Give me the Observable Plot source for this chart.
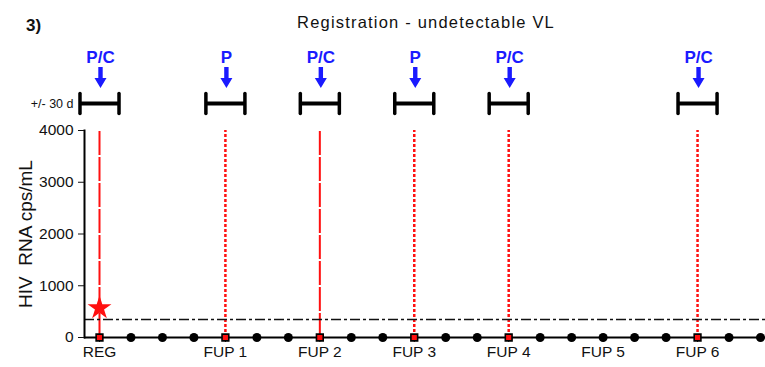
<!DOCTYPE html>
<html><head><meta charset="utf-8">
<script src="https://cdn.jsdelivr.net/npm/d3@7"></script>
<script src="https://cdn.jsdelivr.net/npm/@observablehq/plot@0.6"></script>
<style>
body{margin:0;background:#fff;font-family:"Liberation Sans",Arial,sans-serif;}
#wrap{position:relative;width:765px;height:367px;overflow:hidden;background:#fff}
#panel{position:absolute;left:26px;top:16px;font-weight:bold;font-size:17px;color:#111}
#title{position:absolute;left:0;width:852px;top:13px;text-align:center;font-size:16.5px;letter-spacing:1.2px;color:#111}
#topStrip{position:absolute;left:0;top:40px}
#mainChart{position:absolute;left:0;top:115px}
</style>
</head><body>
<div id="wrap">
  <div id="panel">3)</div>
  <div id="title">Registration - undetectable VL</div>
  <div id="topStrip"></div>
  <div id="mainChart"></div>
</div>
<script>
// ---- data ----
const sampleMonths = [0,1,2,3,4,5,6,7,8,9,10,11,12,13,14,15,16,17,18,19,20,21];
const viralLoad   = [0,0,0,0,0,0,0,0,0,0,0,0,0,0,0,0,0,0,0,0,0,0];
const visitMonths = [0,4,7,10,13,16,19];
const visitLabels = ["REG","FUP 1","FUP 2","FUP 3","FUP 4","FUP 5","FUP 6"];
const sampledVisits = [0,4,7,10,13,19];
const sampleTypes = ["P/C","P","P/C","P","P/C","P/C"];
const dashedVisits = [0,7];
const dottedVisits = [4,10,13,19];
const detectedMonths = [0];
const detectedValues = [570];
const detectionLimit = 350;
const windowHalfMonths = 0.62; // +/- 30 d
const yTicks = [0,1000,2000,3000,4000];

const samples = sampleMonths.map((m,i)=>({m, v: viralLoad[i], visit: sampledVisits.includes(m)}));
const detected = detectedMonths.map((m,i)=>({m, v: detectedValues[i]}));
const sampled = sampledVisits.map((m,i)=>({m, type: sampleTypes[i]}));

const RED = "#ff1010", BLUE = "#1a1aff";
const xScale = {domain:[0,21], insetLeft:15, insetRight:5};
const fontStack = "'Liberation Sans',Arial,sans-serif";

const arrowShape = {draw(ctx, l) {
  const hw = 2.2, head = 10, hh = 6;
  ctx.moveTo(-hw, 0); ctx.lineTo(hw, 0); ctx.lineTo(hw, -l + head); ctx.lineTo(hh, -l + head);
  ctx.lineTo(0, -l); ctx.lineTo(-hh, -l + head); ctx.lineTo(-hw, -l + head); ctx.closePath();
}};
const lineShape = {draw(ctx, l) { ctx.moveTo(0, 0); ctx.lineTo(0, -l); }};

// ---- top annotation strip ----
const topPlot = Plot.plot({
  width: 765, height: 75,
  marginLeft: 84, marginRight: 0, marginTop: 0, marginBottom: 0,
  x: {...xScale, axis: null},
  y: {type: "point", domain: ["label","arrow","bar"], range: [16.5, 63], padding: 0, axis: null},
  style: {fontFamily: fontStack, background: "transparent", overflow: "visible"},
  marks: [
    Plot.text(sampled, {x: "m", y: () => "label", text: "type", fill: BLUE, fontWeight: "bold", fontSize: 17, dx: 1}),
    Plot.vector(sampled, {x: "m", y: () => "arrow", length: 21, rotate: 180, anchor: "middle", shape: arrowShape, fill: BLUE, stroke: "none", dy: -3, dx: 1}),
    Plot.ruleY(sampled, {y: () => "bar", x1: d => d.m - windowHalfMonths, x2: d => d.m + windowHalfMonths, strokeWidth: 4, stroke: "#000"}),
    Plot.vector(sampled, {x: d => d.m - windowHalfMonths, y: () => "bar", length: 20, anchor: "middle", shape: lineShape, stroke: "#000", strokeWidth: 3.5}),
    Plot.vector(sampled, {x: d => d.m + windowHalfMonths, y: () => "bar", length: 20, anchor: "middle", shape: lineShape, stroke: "#000", strokeWidth: 3.5}),
    Plot.text(["+/- 30 d"], {frameAnchor: "left", y: () => "bar", textAnchor: "end", dx: -11, fontSize: 12.5, fill: "#111"})
  ]
});
document.getElementById("topStrip").appendChild(topPlot);

// ---- main chart ----
const mainPlot = Plot.plot({
  width: 765, height: 252,
  marginLeft: 84, marginRight: 0, marginTop: 15, marginBottom: 30,
  x: {...xScale},
  y: {domain: [0, 4000]},
  style: {fontFamily: fontStack, fontSize: "15.5px", color: "#111", background: "transparent", overflow: "visible"},
  marks: [
    Plot.ruleX(dashedVisits, {x: d => d, y1: 0, y2: 4000, stroke: RED, strokeWidth: 2, strokeDasharray: "24,2"}),
    Plot.ruleX(dottedVisits, {x: d => d, y1: 0, y2: 4000, stroke: RED, strokeWidth: 2.5, strokeDasharray: "3,2"}),
    Plot.ruleY([detectionLimit], {stroke: "#111", strokeWidth: 1.5, strokeDasharray: "10,3,3,3"}),
    Plot.ruleY([0], {stroke: "#000", strokeWidth: 2}),
    Plot.frame({anchor: "left", stroke: "#000", strokeWidth: 2}),
    Plot.axisY({ticks: yTicks, tickSize: 6, tickPadding: 5, label: null, fontSize: 15.5, tickFormat: d => String(d)}),
    Plot.axisX({ticks: visitMonths, tickSize: 5, tickPadding: 3, label: null, fontSize: 15.5,
      tickFormat: d => visitLabels[visitMonths.indexOf(d)]}),
    Plot.text(["HIV  RNA cps/mL"], {frameAnchor: "left", textAnchor: "middle", rotate: -90, dx: -59, fontSize: 19, fill: "#111"}),
    Plot.dot(samples.filter(d => !d.visit), {x: "m", y: "v", r: 4.5, fill: "#000", stroke: "none"}),
    Plot.dot(samples.filter(d => d.visit), {x: "m", y: "v", symbol: "square", r: 3.8, fill: RED, stroke: "#000", strokeWidth: 1.6}),
    Plot.dot(detected, {x: "m", y: "v", symbol: "star", r: 7.5, fill: RED, stroke: "none"})
  ]
});
document.getElementById("mainChart").appendChild(mainPlot);
</script>
</body></html>
